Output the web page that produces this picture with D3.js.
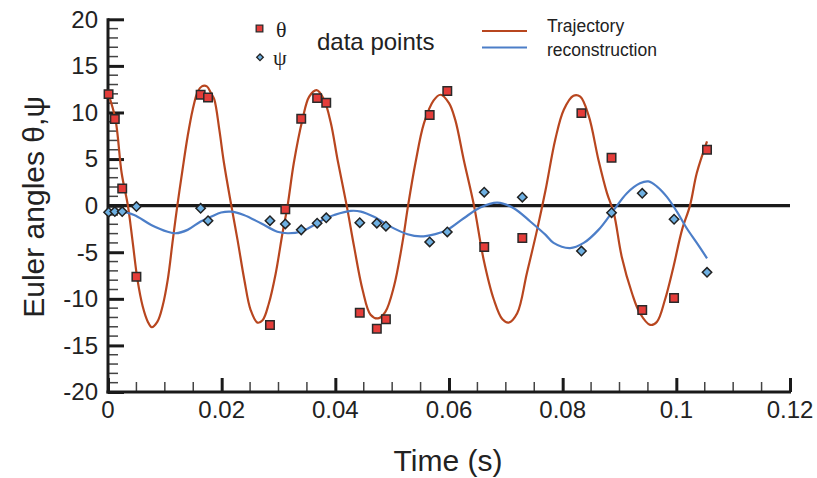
<!DOCTYPE html>
<html>
<head>
<meta charset="utf-8">
<script src="https://cdn.jsdelivr.net/npm/d3@7"></script>
<style>
  body { margin: 0; background: #fff; }
  text { font-family: "Liberation Sans", Arial, sans-serif; fill: #222; }
</style>
</head>
<body>
<svg class="chart" width="817" height="478"></svg>
<script>
var svg = d3.select(".chart"),
    width = +svg.attr("width"),
    height = +svg.attr("height");

// data points
var pointTime = [0.0001, 0.0012, 0.0025, 0.0050, 0.0163, 0.0176, 0.0285, 0.0312, 0.0340, 0.0368, 0.0384,
                 0.0443, 0.0473, 0.0489, 0.0566, 0.0597, 0.0662, 0.0729, 0.0833, 0.0886, 0.0940, 0.0996, 0.1054];
var thetaPoints = [11.97, 9.29, 1.83, -7.62, 11.9, 11.6, -12.8, -0.38, 9.32, 11.54, 11.04,
                   -11.5, -13.2, -12.2, 9.72, 12.3, -4.43, -3.46, 9.93, 5.13, -11.2, -9.9, 6.01];
var psiPoints = [-0.70, -0.64, -0.64, -0.10, -0.28, -1.61, -1.61, -1.96, -2.60, -1.88, -1.31,
                 -1.83, -1.88, -2.21, -3.89, -2.82, 1.44, 0.91, -4.87, -0.75, 1.33, -1.46, -7.15];

// trajectory reconstruction, theta
var thetaCurveT = [0.0000, 0.0013, 0.0024, 0.0035, 0.0043, 0.0052, 0.0061, 0.0070, 0.0077, 0.0087, 0.0096, 0.0105,
                   0.0114, 0.0122, 0.0131, 0.0140, 0.0149, 0.0158, 0.0165, 0.0174, 0.0181, 0.0187, 0.0196, 0.0204,
                   0.0217, 0.0228, 0.0240, 0.0251, 0.0263, 0.0272, 0.0283, 0.0295, 0.0307, 0.0316, 0.0327, 0.0342,
                   0.0354, 0.0367, 0.0380, 0.0392, 0.0404, 0.0420, 0.0433, 0.0448, 0.0462, 0.0475, 0.0488, 0.0503,
                   0.0518, 0.0528, 0.0541, 0.0556, 0.0573, 0.0585, 0.0600, 0.0611, 0.0626, 0.0644, 0.0661, 0.0679,
                   0.0694, 0.0705, 0.0720, 0.0737, 0.0755, 0.0770, 0.0787, 0.0802, 0.0819, 0.0831, 0.0846, 0.0863,
                   0.0878, 0.0890, 0.0904, 0.0922, 0.0936, 0.0954, 0.0966, 0.0980, 0.0995, 0.1010, 0.1024, 0.1036, 0.1054];
var thetaCurve = [12.1, 9.3, 3.5, 0, -3.7, -8.0, -10.8, -12.45, -13.05, -12.45, -10.8, -8.0,
                  -3.7, 0, 3.8, 7.4, 10.3, 12.25, 12.8, 12.8, 12.1, 11.4, 8.1, 4.6,
                  0, -3.7, -8.0, -11.2, -12.55, -12.3, -10.5, -7.3, -2.96, 0, 4.6, 9.2,
                  11.7, 12.4, 11.4, 8.9, 4.9, 0, -4.4, -9.05, -11.7, -12.1, -11.4, -8.7,
                  -4.0, 0, 4.6, 8.85, 11.3, 11.9, 11.0, 9.2, 4.9, 0, -5.8, -10.1,
                  -12.2, -12.55, -11.55, -7.25, -2.6, 1.7, 7.1, 10.3, 11.8, 11.7, 9.6, 4.9,
                  1.34, -0.8, -5.5, -9.4, -11.55, -12.8, -12.45, -10.1, -6.55, -2.6, 0, 3.5, 6.9];

// trajectory reconstruction, psi
var psiCurveT = [0.0000, 0.0023, 0.0046, 0.0076, 0.0105, 0.0119, 0.0140, 0.0163, 0.0181, 0.0199, 0.0216, 0.0239,
                 0.0269, 0.0298, 0.0316, 0.0339, 0.0362, 0.0383, 0.0398, 0.0427, 0.0445, 0.0468, 0.0497, 0.0527,
                 0.0550, 0.0576, 0.0597, 0.0626, 0.0655, 0.0685, 0.0714, 0.0743, 0.0770, 0.0784, 0.0813, 0.0837,
                 0.0863, 0.0890, 0.0913, 0.0936, 0.0951, 0.0966, 0.0983, 0.1001, 0.1018, 0.1036, 0.1054];
var psiCurve = [-0.9, -0.64, -1.0, -2.07, -2.8, -2.96, -2.6, -1.7, -1.2, -0.74, -0.64, -1.0,
                -1.9, -2.8, -2.96, -2.8, -2.1, -1.35, -1.0, -0.56, -0.64, -1.2, -2.25, -3.07,
                -3.3, -3.05, -2.6, -1.35, -0.2, 0.33, -0.27, -1.7, -3.14, -4.0, -4.55, -4.0,
                -2.6, -0.46, 1.34, 2.4, 2.6, 2.05, 0.97, -0.64, -2.4, -4.0, -5.65];

var xTicks = [0, 0.02, 0.04, 0.06, 0.08, 0.1, 0.12];
var yTicks = [-20, -15, -10, -5, 0, 5, 10, 15, 20];

var thetaLine = "#b8461f", psiLine = "#4c7ec8";
var thetaFill = "#e53d3a", psiFill = "#6eb0e2";

var x = d3.scaleLinear().domain([0, 0.12]).range([108, 790]);
var y = d3.scaleLinear().domain([-20, 20]).range([392, 19.3]);

// zero line
svg.append("line")
    .attr("x1", x(0)).attr("x2", x(0.12))
    .attr("y1", y(0)).attr("y2", y(0))
    .style("stroke", "#1a1a1a").style("stroke-width", 3.2);

// minor ticks
var g = svg.append("g");
g.selectAll(".ymin").data(d3.range(-19, 20, 1).filter(function(d) { return d % 5 != 0; }))
  .enter().append("line")
    .attr("x1", x(0)).attr("x2", x(0) + 10)
    .attr("y1", function(d) { return y(d); }).attr("y2", function(d) { return y(d); })
    .style("stroke", "#444").style("stroke-width", 1.5);
g.selectAll(".xmin").data(d3.range(1, 24).filter(function(d) { return d % 4 != 0; }))
  .enter().append("line")
    .attr("x1", function(d) { return x(d * 0.005); }).attr("x2", function(d) { return x(d * 0.005); })
    .attr("y1", y(-20)).attr("y2", y(-20) - 10)
    .style("stroke", "#444").style("stroke-width", 1.5);

// axes, ticks point inward
var yAxis = d3.axisRight(y).tickValues(yTicks).tickSize(16).tickFormat("");
var xAxis = d3.axisTop(x).tickValues(xTicks).tickSize(14).tickFormat("");
svg.append("g").attr("transform", "translate(" + x(0) + ",0)").call(yAxis)
    .call(function(a) { a.select(".domain").remove(); })
    .selectAll("line").style("stroke", "#1a1a1a").style("stroke-width", 3);
svg.append("g").attr("transform", "translate(0," + y(-20) + ")").call(xAxis)
    .call(function(a) { a.select(".domain").remove(); })
    .selectAll("line").style("stroke", "#1a1a1a").style("stroke-width", 3);

svg.append("line").attr("x1", x(0)).attr("x2", x(0)).attr("y1", y(20) - 1).attr("y2", y(-20) + 1.5)
    .style("stroke", "#1a1a1a").style("stroke-width", 3);
svg.append("line").attr("x1", x(0) - 1.5).attr("x2", x(0.12) + 1).attr("y1", y(-20)).attr("y2", y(-20))
    .style("stroke", "#1a1a1a").style("stroke-width", 3);

// tick labels
svg.append("g").selectAll("text").data(yTicks).enter().append("text")
    .attr("x", 98).attr("y", function(d) { return y(d); })
    .attr("dy", "0.35em").attr("text-anchor", "end")
    .style("font-size", "24px")
    .text(function(d) { return d; });
svg.append("g").selectAll("text").data(xTicks).enter().append("text")
    .attr("x", function(d) { return x(d); }).attr("y", 410)
    .attr("dy", "0.35em").attr("text-anchor", "middle")
    .style("font-size", "24px")
    .text(function(d) { return d; });

// axis titles
svg.append("text").attr("x", 448).attr("y", 460).attr("dy", "0.35em")
    .attr("text-anchor", "middle").style("font-size", "30px").text("Time (s)");
svg.append("text").attr("transform", "translate(33,207) rotate(-90)").attr("dy", "0.35em")
    .attr("text-anchor", "middle").style("font-size", "30px").text("Euler angles θ,ψ");

// curves
var line = d3.line()
    .x(function(d) { return x(d[0]); })
    .y(function(d) { return y(d[1]); })
    .curve(d3.curveCatmullRom.alpha(0.5));

svg.append("path").datum(d3.zip(thetaCurveT, thetaCurve))
    .attr("d", line).style("fill", "none").style("stroke", thetaLine).style("stroke-width", 2.2);
svg.append("path").datum(d3.zip(psiCurveT, psiCurve))
    .attr("d", line).style("fill", "none").style("stroke", psiLine).style("stroke-width", 2.2);

// markers (diamond = square turned 45 degrees)
var sq = d3.symbol().type(d3.symbolSquare).size(72);
var dm = d3.symbol().type(d3.symbolSquare).size(44);

svg.append("g").selectAll("path").data(d3.zip(pointTime, psiPoints)).enter().append("path")
    .attr("d", dm)
    .attr("transform", function(d) { return "translate(" + x(d[0]) + "," + y(d[1]) + ") rotate(45)"; })
    .style("fill", psiFill).style("stroke", "#222").style("stroke-width", 1.5);
svg.append("g").selectAll("path").data(d3.zip(pointTime, thetaPoints)).enter().append("path")
    .attr("d", sq)
    .attr("transform", function(d) { return "translate(" + x(d[0]) + "," + y(d[1]) + ")"; })
    .style("fill", thetaFill).style("stroke", "#2a2a2a").style("stroke-width", 1.5);

// legend
var leg = svg.append("g");
leg.append("path").attr("d", d3.symbol().type(d3.symbolSquare).size(44))
    .attr("transform", "translate(259.5,28.5)")
    .style("fill", thetaFill).style("stroke", "#2a2a2a").style("stroke-width", 1.3);
leg.append("path").attr("d", d3.symbol().type(d3.symbolSquare).size(22))
    .attr("transform", "translate(260,57.3) rotate(45)")
    .style("fill", psiFill).style("stroke", "#222").style("stroke-width", 1.3);
leg.append("text").attr("x", 276).attr("y", 29).attr("dy", "0.35em")
    .style("font-family", "'Liberation Serif', serif").style("font-size", "22px").text("θ");
leg.append("text").attr("x", 273).attr("y", 57).attr("dy", "0.35em")
    .style("font-family", "'Liberation Serif', serif").style("font-size", "22px").text("ψ");
leg.append("text").attr("x", 317).attr("y", 42).attr("dy", "0.35em")
    .style("font-size", "24px").text("data points");
leg.append("line").attr("x1", 482).attr("x2", 527).attr("y1", 31).attr("y2", 31)
    .style("stroke", thetaLine).style("stroke-width", 2.2);
leg.append("line").attr("x1", 482).attr("x2", 527).attr("y1", 47.5).attr("y2", 47.5)
    .style("stroke", psiLine).style("stroke-width", 2.2);
leg.append("text").attr("x", 547).attr("y", 26).attr("dy", "0.35em")
    .style("font-size", "17.5px").text("Trajectory");
leg.append("text").attr("x", 547).attr("y", 50).attr("dy", "0.35em")
    .style("font-size", "17.5px").text("reconstruction");
</script>
</body>
</html>
